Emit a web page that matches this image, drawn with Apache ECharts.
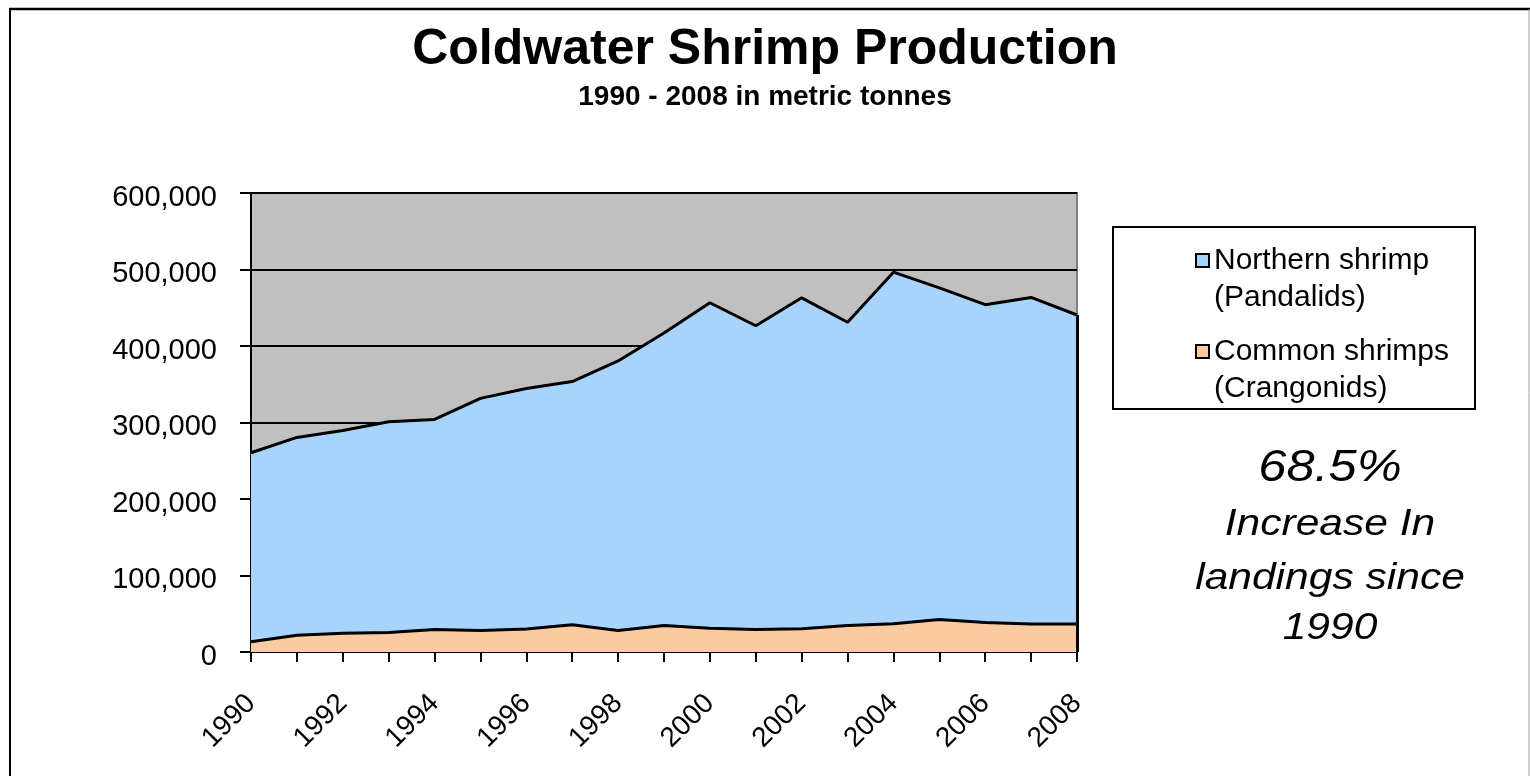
<!DOCTYPE html>
<html>
<head>
<meta charset="utf-8">
<script src="https://cdn.jsdelivr.net/npm/echarts@6/dist/echarts.min.js"></script>
<style>html,body{margin:0;padding:0;background:#fff;}#c{width:1530px;height:776px;}</style>
</head>
<body>
<div id="c"></div>
<script>
var years = ['1990','1991','1992','1993','1994','1995','1996','1997','1998','1999','2000','2001','2002','2003','2004','2005','2006','2007','2008'];
var northern = [247000, 258500, 265000, 275500, 274500, 303500, 314500, 318000, 352500, 382500, 425500, 397000, 432500, 396500, 459500, 433500, 415500, 427000, 404000];
var common = [13500, 22000, 24500, 25500, 29500, 28000, 30000, 35500, 28000, 34500, 31000, 29500, 30500, 34500, 37000, 42500, 38500, 36500, 36500];
var seriesNames = ['Northern shrimp', 'Common shrimps'];
var legendLines = {'Northern shrimp': '\nNorthern shrimp\n(Pandalids)', 'Common shrimps': '\nCommon shrimps\n(Crangonids)'};
var noteLines = ['68.5%', 'Increase In', 'landings since', '1990'];

var F = '"Liberation Sans", Arial, sans-serif';
var chart = echarts.init(document.getElementById('c'));
var last = years.length - 1;
function note(txt, y, size) {
  return {type: 'text', x: 1330, y: y, scaleX: 1.15, silent: true,
    style: {text: txt, x: 0, y: 0, align: 'center', verticalAlign: 'middle', font: 'italic ' + size + 'px "Liberation Sans", Arial, sans-serif', fill: '#000'}};
}
chart.setOption({
  backgroundColor: '#fff',
  animation: false,
  title: {
    text: 'Coldwater Shrimp Production',
    subtext: '1990 - 2008 in metric tonnes',
    left: 'center', top: 20, itemGap: 8,
    textStyle: {fontFamily: F, fontSize: 50, fontWeight: 'bold', color: '#000'},
    subtextStyle: {fontFamily: F, fontSize: 28, fontWeight: 'bold', color: '#000'}
  },
  grid: {left: 251, top: 193, right: 453, bottom: 124, show: true, backgroundColor: '#C0C0C0', borderColor: '#808080', borderWidth: 2},
  legend: {
    data: seriesNames,
    orient: 'vertical',
    left: 1190, top: 200,
    itemWidth: 13, itemHeight: 13, itemGap: -20,
    icon: 'rect',
    formatter: function (n) { return legendLines[n]; },
    textStyle: {fontFamily: F, fontSize: 30, color: '#000', lineHeight: 37}
  },
  xAxis: {
    type: 'category', data: years, boundaryGap: false,
    axisLine: {show: true, lineStyle: {color: '#000', width: 2}},
    axisTick: {show: true, interval: 0, length: 10, lineStyle: {color: '#000', width: 2}},
    axisLabel: {interval: 1, rotate: 45, margin: 47, fontFamily: F, fontSize: 28, color: '#000'},
    splitLine: {show: false}
  },
  yAxis: {
    type: 'value', min: 0, max: 600000, interval: 100000,
    axisLine: {show: true, lineStyle: {color: '#000', width: 2}},
    axisTick: {show: true, length: 11, lineStyle: {color: '#000', width: 2}},
    axisLabel: {margin: 34, fontFamily: F, fontSize: 29, color: '#000',
      formatter: function (v) { return '{v|' + (v === 0 ? '0' : v.toLocaleString('en-US')) + '}'; },
      rich: {v: {fontFamily: F, fontSize: 29, color: '#000', padding: [9, 0, 0, 0]}}},
    splitLine: {show: true, lineStyle: {color: '#000', width: 2}}
  },
  series: [
    {
      name: 'Common shrimps', type: 'line', stack: 'total', data: common, symbol: 'none',
      lineStyle: {color: '#000', width: 3}, itemStyle: {color: '#FACBA0', borderColor: '#000', borderWidth: 1.5},
      areaStyle: {color: '#FACBA0', opacity: 1}, z: 3,
      markLine: {
        silent: true, symbol: 'none', label: {show: false},
        lineStyle: {color: '#000', width: 3, type: 'solid'},
        data: [[{coord: [years[last], 0]}, {coord: [years[last], common[last] + northern[last]]}]]
      }
    },
    {
      name: 'Northern shrimp', type: 'line', stack: 'total', data: northern, symbol: 'none',
      lineStyle: {color: '#000', width: 3}, itemStyle: {color: '#A8D4FC', borderColor: '#000', borderWidth: 1.5},
      areaStyle: {color: '#A8D4FC', opacity: 1}, z: 2
    }
  ],
  graphic: [
    {type: 'line', shape: {x1: 10, y1: 8, x2: 10, y2: 776}, style: {stroke: '#000', lineWidth: 2}, silent: true},
    {type: 'line', shape: {x1: 9, y1: 9, x2: 1530, y2: 9}, style: {stroke: '#000', lineWidth: 2.5}, silent: true},
    {type: 'line', shape: {x1: 1529, y1: 9, x2: 1529, y2: 776}, style: {stroke: '#A0A0A0', lineWidth: 1}, silent: true},
    {type: 'rect', shape: {x: 1113, y: 227, width: 362, height: 182}, style: {fill: 'none', stroke: '#000', lineWidth: 2}, silent: true},
    note(noteLines[0], 469, 44),
    note(noteLines[1], 525, 37),
    note(noteLines[2], 579, 37),
    note(noteLines[3], 629, 37)
  ]
});
</script>
</body>
</html>
